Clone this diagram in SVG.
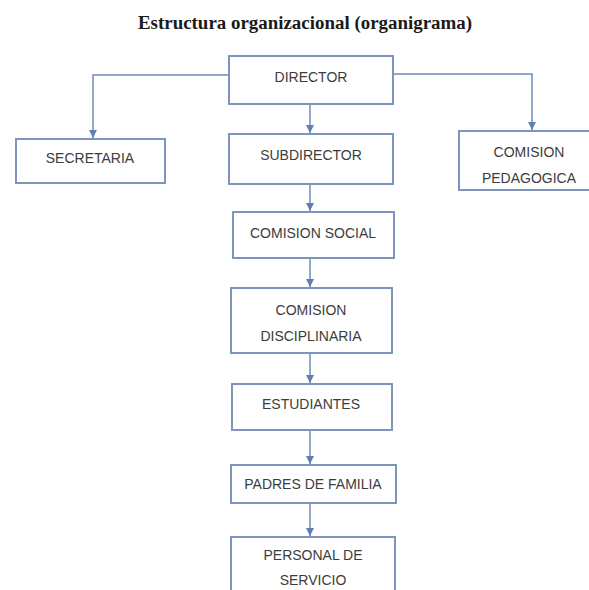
<svg xmlns="http://www.w3.org/2000/svg" width="589" height="590" viewBox="0 0 589 590">
  <style>
    .box { fill: #ffffff; stroke: #7d94bd; stroke-width: 2; }
    .lbl { font-family: "Liberation Sans", Arial, sans-serif; font-size: 14px; fill: #3c3c3c; text-anchor: middle; }
    .con { fill: none; stroke: #6e8cbb; stroke-width: 1.5; }
    .title { font-family: "Liberation Serif", "Times New Roman", serif; font-weight: bold; font-size: 18px; fill: #1a1a1a; text-anchor: middle; }
  </style>
  <defs>
    <marker id="arr" viewBox="0 0 8 8" refX="8" refY="4" markerWidth="8" markerHeight="8" markerUnits="userSpaceOnUse" orient="auto">
      <path d="M0,0 L8,4 L0,8 Z" fill="#5f7fb2"/>
    </marker>
  </defs>
  <rect width="589" height="590" fill="#ffffff"/>
  <text class="title" x="305" y="29" textLength="334" lengthAdjust="spacingAndGlyphs">Estructura organizacional (organigrama)</text>

  <g id="connectors">
    <path class="con" d="M229,75 H93 V138" marker-end="url(#arr)"/>
    <path class="con" d="M393,74 H532 V130" marker-end="url(#arr)"/>
    <path class="con" d="M310,104 V133" marker-end="url(#arr)"/>
    <path class="con" d="M310,184 V211" marker-end="url(#arr)"/>
    <path class="con" d="M310,258 V287" marker-end="url(#arr)"/>
    <path class="con" d="M310,353 V383" marker-end="url(#arr)"/>
    <path class="con" d="M310,430 V464" marker-end="url(#arr)"/>
    <path class="con" d="M310,503 V536" marker-end="url(#arr)"/>
  </g>

  <g id="director">
    <rect class="box" x="229" y="56" width="164" height="48"/>
    <text class="lbl" x="311" y="82">DIRECTOR</text>
  </g>
  <g id="secretaria">
    <rect class="box" x="16" y="139" width="149" height="44"/>
    <text class="lbl" x="90" y="163">SECRETARIA</text>
  </g>
  <g id="subdirector">
    <rect class="box" x="229" y="134" width="164" height="50"/>
    <text class="lbl" x="311" y="160">SUBDIRECTOR</text>
  </g>
  <g id="comision-pedagogica">
    <rect class="box" x="459" y="131" width="140" height="59"/>
    <text class="lbl" x="529" y="157">COMISION</text>
    <text class="lbl" x="529" y="183">PEDAGOGICA</text>
  </g>
  <g id="comision-social">
    <rect class="box" x="233" y="212" width="161" height="46"/>
    <text class="lbl" x="313" y="238">COMISION SOCIAL</text>
  </g>
  <g id="comision-disciplinaria">
    <rect class="box" x="231" y="288" width="161" height="65"/>
    <text class="lbl" x="311" y="315">COMISION</text>
    <text class="lbl" x="311" y="341">DISCIPLINARIA</text>
  </g>
  <g id="estudiantes">
    <rect class="box" x="232" y="384" width="160" height="46"/>
    <text class="lbl" x="311" y="409">ESTUDIANTES</text>
  </g>
  <g id="padres-de-familia">
    <rect class="box" x="231" y="465" width="165" height="38"/>
    <text class="lbl" x="313" y="489">PADRES DE FAMILIA</text>
  </g>
  <g id="personal-de-servicio">
    <rect class="box" x="231" y="537" width="164" height="62"/>
    <text class="lbl" x="313" y="560">PERSONAL DE</text>
    <text class="lbl" x="313" y="585">SERVICIO</text>
  </g>
</svg>
